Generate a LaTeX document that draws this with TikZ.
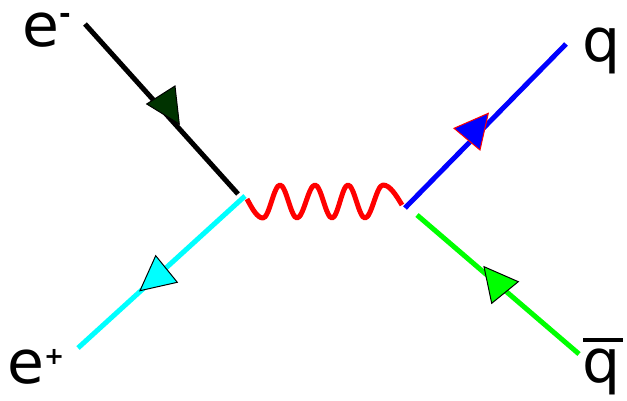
\documentclass[tikz,border=0pt]{standalone}
\usepackage{fontspec}
\setmainfont{DejaVu Sans}
\definecolor{darkarrow}{HTML}{003300}
\definecolor{lgreen}{HTML}{00FF00}
\definecolor{pcyan}{HTML}{00FFFF}
\definecolor{pblue}{HTML}{0000FF}
\definecolor{pred}{HTML}{FF0000}
\tikzset{
  fermion/.style={line width=5pt},
  photon/.style={line width=5pt, pred, line join=round},
  lbl/.style={inner sep=0pt, anchor=base west, font=\fontsize{60}{60}\selectfont},
  head/.style={line width=1pt, line join=miter}
}
\begin{document}
\begin{tikzpicture}[x=1pt,y=-1pt]
\useasboundingbox (0,0) rectangle (627,401);
% end points
\coordinate (em) at (85,24);
\coordinate (vA) at (238,194);
\coordinate (vB) at (245,196);
\coordinate (ep) at (78,348);
\coordinate (vC) at (405,208);
\coordinate (q) at (566,44);
\coordinate (vD) at (417,215);
\coordinate (qb) at (579,354);
\coordinate (gs) at (247,199);
\coordinate (ge) at (402,205);
% fermion lines
\draw[fermion, black] (em) -- (vA);
\draw[fermion, pcyan] (vB) -- (ep);
\draw[fermion, pblue] (vC) -- (q);
\draw[fermion, lgreen] (vD) -- (qb);
% photon
\draw[photon] (gs) sin (263,218) cos (271.5,201.5) sin (280,185) cos (288.5,201.5)
  sin (297,218) cos (306,201.5) sin (315,185) cos (323.5,201.5)
  sin (332,218) cos (340,201.5) sin (348,185) cos (356.5,201.5)
  sin (365,218) cos (374,201.5) sin (383,185) cos (ge);
% arrow heads
\filldraw[head, fill=darkarrow, draw=black] (146.7,104) -- (175,86) -- (179.3,124) -- cycle;
\filldraw[head, fill=pcyan, draw=black] (155.7,255.7) -- (177.3,282.3) -- (140,290.7) -- cycle;
\filldraw[head, fill=pblue, draw=pred] (454,128.3) -- (488.3,113.3) -- (480,150) -- cycle;
\filldraw[head, fill=lgreen, draw=black] (484,266.7) -- (518.3,281.7) -- (491.7,303.3) -- cycle;
% labels
\node[lbl] (lem) at (22,47) {e\raisebox{23pt}{\fontsize{28}{28}\bfseries -}};
\node[lbl] (lep) at (7,383) {e\raisebox{19pt}{\fontsize{24}{24}\bfseries +}};
\node[lbl] (lq) at (582,62) {q};
\node[lbl] (lqb) at (582,382) {\makebox[0pt][l]{\hspace{1pt}\rule[40pt]{40pt}{4pt}}q};
\end{tikzpicture}
\end{document}
